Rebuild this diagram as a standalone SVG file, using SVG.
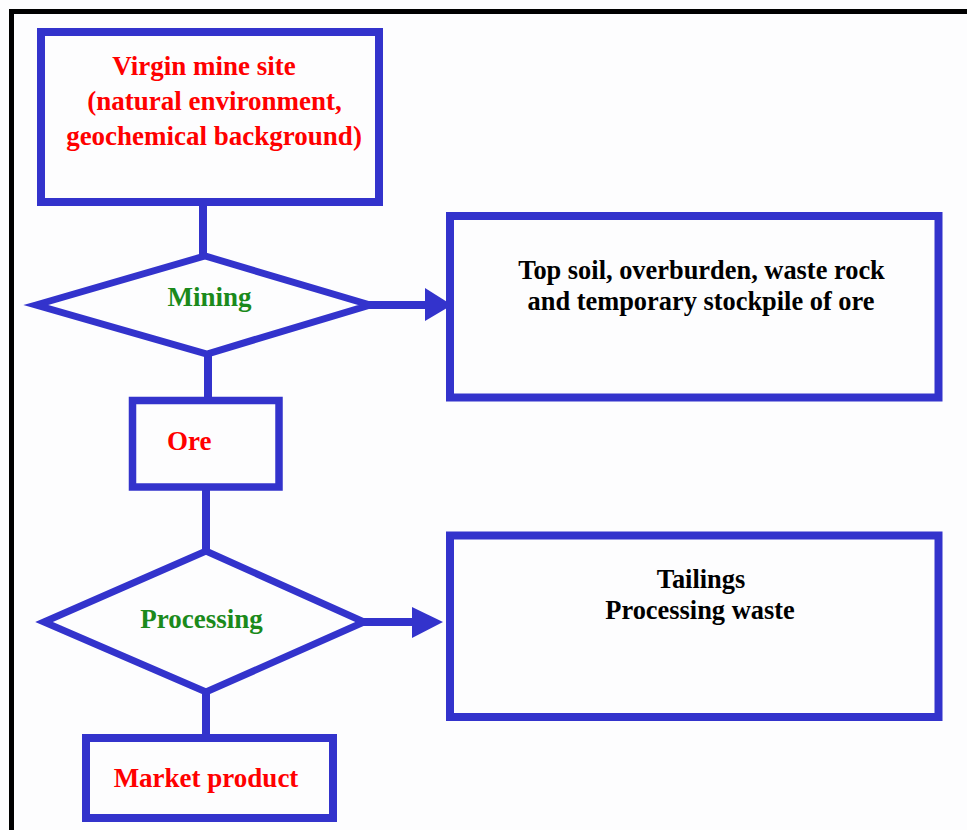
<svg xmlns="http://www.w3.org/2000/svg" width="967" height="830" viewBox="0 0 967 830">
<style>
.box{fill:none;stroke:#3333cc;stroke-width:8}
.dia{fill:none;stroke:#3333cc;stroke-width:7;stroke-linejoin:miter}
.ln{stroke:#3333cc;stroke-width:8;fill:none}
.ah{fill:#3333cc}
text{font-family:"Liberation Serif","Times New Roman",serif;font-weight:bold;font-size:27px}
.red{fill:#ff0000}
.grn{fill:#1b8a1b}
.blk{fill:#000000}
</style>
<rect width="967" height="830" fill="#fdfdfe"/>
<g id="frame">
<line x1="9" y1="11.5" x2="967" y2="11.5" stroke="#000" stroke-width="5"/>
<line x1="11.5" y1="9" x2="11.5" y2="830" stroke="#000" stroke-width="5"/>
</g>
<g id="connectors">
<line class="ln" x1="203" y1="202" x2="203" y2="256"/>
<line class="ln" x1="208" y1="354" x2="208" y2="401"/>
<line class="ln" x1="206" y1="487" x2="206" y2="551"/>
<line class="ln" x1="206" y1="692" x2="206" y2="738"/>
<line class="ln" x1="368" y1="305" x2="428" y2="305"/>
<polygon class="ah" points="425,288 452,305 425,321"/>
<line class="ln" x1="362" y1="622" x2="415" y2="622"/>
<polygon class="ah" points="412,607 443,622 412,638"/>
</g>
<g id="virgin">
<rect class="box" x="41" y="32" width="338" height="170"/>
<text class="red" x="204" y="75" text-anchor="middle">Virgin mine site</text>
<text class="red" x="214.5" y="110" text-anchor="middle">(natural environment,</text>
<text class="red" x="214" y="145" text-anchor="middle">geochemical background)</text>
</g>
<g id="mining">
<polygon class="dia" points="36,305 205,256 370,305 207,354"/>
<text class="grn" x="209.5" y="306" text-anchor="middle">Mining</text>
</g>
<g id="waste1">
<rect class="box" x="450" y="216" width="488.5" height="181.5"/>
<text class="blk" x="701.5" y="279" text-anchor="middle" style="font-size:26.4px">Top soil, overburden, waste rock</text>
<text class="blk" x="701" y="310" text-anchor="middle" style="font-size:26.4px">and temporary stockpile of ore</text>
</g>
<g id="ore">
<rect class="box" x="132.5" y="400.5" width="146.5" height="86.5" style="stroke-width:7.5"/>
<text class="red" x="167" y="450">Ore</text>
</g>
<g id="processing">
<polygon class="dia" points="44,622 206,551 364,622 206,692"/>
<text class="grn" x="201.5" y="628" text-anchor="middle">Processing</text>
</g>
<g id="waste2">
<rect class="box" x="450" y="535.5" width="488.5" height="181.5"/>
<text class="blk" x="701" y="588" text-anchor="middle" style="font-size:26.4px">Tailings</text>
<text class="blk" x="700" y="619" text-anchor="middle" style="font-size:26.4px">Processing waste</text>
</g>
<g id="market">
<rect class="box" x="86" y="738" width="247" height="80"/>
<text class="red" x="206" y="787" text-anchor="middle">Market product</text>
</g>
</svg>
